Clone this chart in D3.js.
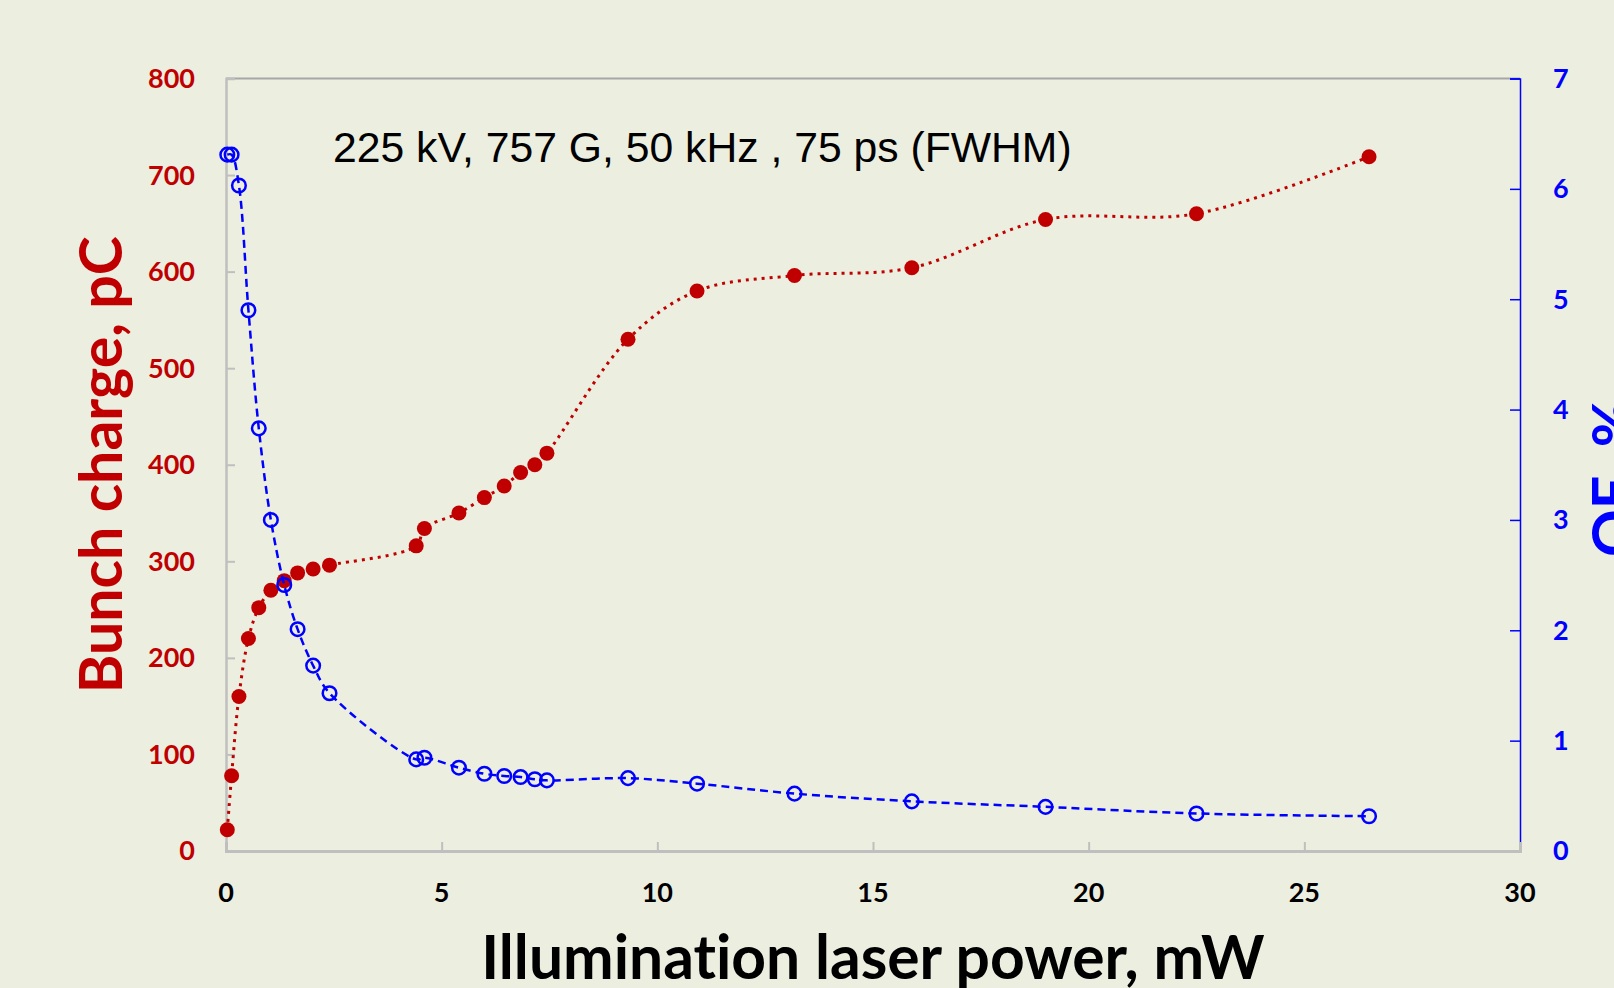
<!DOCTYPE html>
<html>
<head>
<meta charset="utf-8">
<script src="https://cdn.jsdelivr.net/npm/d3@7"></script>
<style>
  body { margin: 0; background: #ECEFE0; overflow: hidden; }
  svg { display: block; }
  text { font-variant-ligatures: none; }
  .tick-label { font-family: Lato, "Open Sans", sans-serif; font-weight: bold; font-size: 27px; }
  .axis-title { font-family: Lato, "Open Sans", sans-serif; font-weight: bold; font-size: 59px; }
</style>
</head>
<body>
<div id="chart"></div>
<script>
// laser power, mW (shared by both series)
var power = [0.03, 0.13, 0.30, 0.52, 0.76, 1.04, 1.35, 1.66, 2.02, 2.40,
             4.41, 4.60, 5.40, 5.99, 6.45, 6.83, 7.16, 7.44,
             9.32, 10.92, 13.18, 15.9, 19.0, 22.5, 26.5]

// bunch charge, pC
var charge = [22, 78, 160, 220, 252, 270, 280, 288, 292, 296,
              316, 334, 350, 366, 378, 392, 400, 412,
              530, 580, 596, 604, 654, 660, 719]

// QE, %
var qe = [6.31, 6.31, 6.03, 4.90, 3.83, 3.00, 2.41, 2.01, 1.68, 1.43,
          0.83, 0.845, 0.755, 0.70, 0.68, 0.67, 0.65, 0.64,
          0.66, 0.61, 0.52, 0.45, 0.40, 0.34, 0.315]

var xTicks = [0, 5, 10, 15, 20, 25, 30]
var leftTicks = [0, 100, 200, 300, 400, 500, 600, 700, 800]
var rightTicks = [0, 1, 2, 3, 4, 5, 6, 7]

var annotation = "225 kV, 757 G, 50 kHz , 75 ps (FWHM)"

;(function () {

  var margin = { top: 78.5, right: 94, bottom: 137, left: 226 }

  var width = 1614 - margin.left - margin.right,
      height = 988 - margin.top - margin.bottom

  var red = '#C00000',
      blue = '#0000FF',
      grey = '#BFBFBF'

  var svg = d3.select("#chart").append("svg")
    .attr("width", 1614)
    .attr("height", 988)
    .append("g")
    .attr("transform", "translate(" + margin.left + "," + margin.top + ")")

  var xPositionScale = d3.scaleLinear()
    .domain([0, 30])
    .range([0, width])

  var yChargeScale = d3.scaleLinear()
    .domain([0, 800])
    .range([height, 0])

  var yQEScale = d3.scaleLinear()
    .domain([0, 7])
    .range([height, 0])

  var datapoints = power.map(function (p, i) {
    return { power: p, charge: charge[i], qe: qe[i] }
  })

  // plot frame: top border
  svg.append('line')
    .attr('x1', 0).attr('x2', width)
    .attr('y1', 0).attr('y2', 0)
    .attr('stroke', '#A6A6A6')
    .attr('stroke-width', 2)

  // left axis (ticks point inward)
  var yAxis = d3.axisRight(yChargeScale)
    .tickValues(leftTicks)
    .tickSize(9)
    .tickFormat('')
  var yAxisG = svg.append("g")
    .attr("class", "axis y-axis")
    .call(yAxis)
  yAxisG.select('.domain').attr('stroke', grey).attr('stroke-width', 2.5)
  yAxisG.selectAll('.tick line').attr('stroke', grey).attr('stroke-width', 2)

  svg.selectAll('.left-label')
    .data(leftTicks)
    .enter().append('text')
    .attr('class', 'tick-label left-label')
    .attr('x', -31)
    .attr('y', function (d) { return yChargeScale(d) })
    .attr('dy', '0.35em')
    .attr('text-anchor', 'end')
    .attr('fill', red)
    .text(function (d) { return d })

  // right axis
  var y2Axis = d3.axisLeft(yQEScale)
    .tickValues(rightTicks)
    .tickSize(10)
    .tickFormat('')
  var y2AxisG = svg.append("g")
    .attr("class", "axis y2-axis")
    .attr("transform", "translate(" + width + ",0)")
    .call(y2Axis)
  y2AxisG.select('.domain').attr('stroke', blue).attr('stroke-width', 1.5)
  y2AxisG.selectAll('.tick line').attr('stroke', blue).attr('stroke-width', 1.5)

  svg.selectAll('.right-label')
    .data(rightTicks)
    .enter().append('text')
    .attr('class', 'tick-label right-label')
    .attr('x', width + 33)
    .attr('y', function (d) { return yQEScale(d) })
    .attr('dy', '0.35em')
    .attr('text-anchor', 'start')
    .attr('fill', blue)
    .text(function (d) { return d })

  // bottom axis
  var xAxis = d3.axisTop(xPositionScale)
    .tickValues(xTicks)
    .tickSize(9)
    .tickFormat('')
  var xAxisG = svg.append("g")
    .attr("class", "axis x-axis")
    .attr("transform", "translate(0," + height + ")")
    .call(xAxis)
  xAxisG.select('.domain').attr('stroke', grey).attr('stroke-width', 3)
  xAxisG.selectAll('.tick line').attr('stroke', grey).attr('stroke-width', 2)

  svg.selectAll('.x-label')
    .data(xTicks)
    .enter().append('text')
    .attr('class', 'tick-label x-label')
    .attr('x', function (d) { return xPositionScale(d) })
    .attr('y', height + 42)
    .attr('dy', '0.35em')
    .attr('text-anchor', 'middle')
    .attr('fill', '#000')
    .text(function (d) { return d })

  // lines
  var chargeLine = d3.line()
    .x(function (d) { return xPositionScale(d.power) })
    .y(function (d) { return yChargeScale(d.charge) })
    .curve(d3.curveCatmullRom)

  var qeLine = d3.line()
    .x(function (d) { return xPositionScale(d.power) })
    .y(function (d) { return yQEScale(d.qe) })
    .curve(d3.curveCatmullRom)

  svg.append('path')
    .datum(datapoints)
    .attr('d', chargeLine)
    .attr('fill', 'none')
    .attr('stroke', red)
    .attr('stroke-width', 3)
    .attr('stroke-dasharray', '3,5')

  svg.selectAll('.charge-dot')
    .data(datapoints)
    .enter().append('circle')
    .attr('class', 'charge-dot')
    .attr('r', 7.5)
    .attr('cx', function (d) { return xPositionScale(d.power) })
    .attr('cy', function (d) { return yChargeScale(d.charge) })
    .attr('fill', red)

  svg.append('path')
    .datum(datapoints)
    .attr('d', qeLine)
    .attr('fill', 'none')
    .attr('stroke', blue)
    .attr('stroke-width', 2.5)
    .attr('stroke-dasharray', '8,5')

  svg.selectAll('.qe-dot')
    .data(datapoints)
    .enter().append('circle')
    .attr('class', 'qe-dot')
    .attr('r', 6.8)
    .attr('cx', function (d) { return xPositionScale(d.power) })
    .attr('cy', function (d) { return yQEScale(d.qe) })
    .attr('fill', 'none')
    .attr('stroke', blue)
    .attr('stroke-width', 2.5)

  // annotation
  svg.append('text')
    .attr('x', 333 - margin.left)
    .attr('y', 162 - margin.top)
    .style('font-family', '"Liberation Sans", Arial, sans-serif')
    .style('font-size', '42.7px')
    .attr('fill', '#000')
    .text(annotation)

  // axis titles
  svg.append('text')
    .attr('class', 'axis-title')
    .attr('transform', 'translate(' + (122 - margin.left) + ',' + (height / 2) + ') rotate(-90)')
    .attr('text-anchor', 'middle')
    .attr('fill', red)
    .text('Bunch charge, pC')

  svg.append('text')
    .attr('class', 'axis-title')
    .attr('transform', 'translate(' + (1635 - margin.left) + ',' + (478 - margin.top) + ') rotate(-90)')
    .attr('text-anchor', 'middle')
    .attr('fill', blue)
    .text('QE, %')

  svg.append('text')
    .attr('class', 'axis-title')
    .attr('x', width / 2)
    .attr('y', 979 - margin.top)
    .attr('text-anchor', 'middle')
    .attr('fill', '#000')
    .style('font-size', '60.5px')
    .text('Illumination laser power, mW')

})()
</script>
</body>
</html>
